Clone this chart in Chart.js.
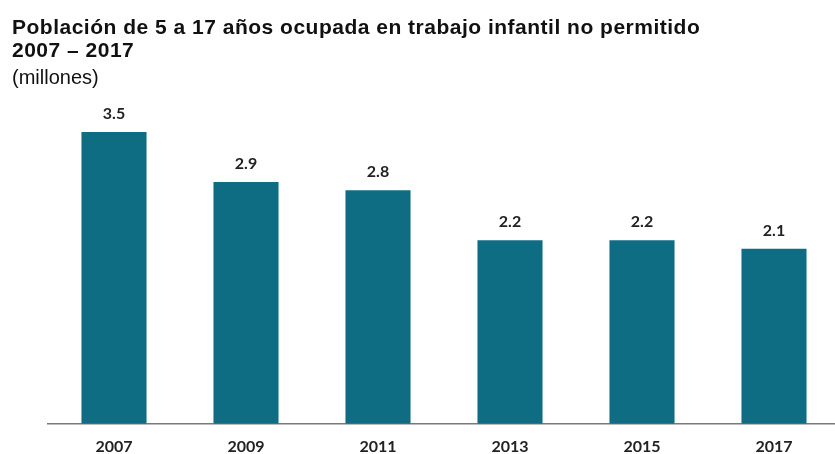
<!DOCTYPE html>
<html>
<head>
<meta charset="utf-8">
<script src="https://cdn.jsdelivr.net/npm/chart.js@4.4.1/dist/chart.umd.min.js"></script>
<style>
  html, body { margin: 0; padding: 0; background: #ffffff; overflow: hidden; }
  #wrap { width: 835px; height: 454px; position: relative; overflow: hidden; }
</style>
</head>
<body>
<div id="wrap"><canvas id="c" width="840" height="454"></canvas></div>
<script>
const categories = ['2007', '2009', '2011', '2013', '2015', '2017'];
const values = [3.5, 2.9, 2.8, 2.2, 2.2, 2.1];
const valueLabels = ['3.5', '2.9', '2.8', '2.2', '2.2', '2.1'];
const titleLines = ['Población de 5 a 17 años ocupada en trabajo infantil no permitido', '2007 – 2017'];
const subtitleText = '(millones)';

const barColor = '#0e6d82';

const valueLabelPlugin = {
  id: 'valueLabels',
  beforeDraw(chart) {
    const tb = chart.titleBlock;
    if (tb && !tb._spaced) {
      const orig = tb.draw.bind(tb);
      tb.draw = function () {
        const ctx = chart.ctx;
        const prev = ctx.letterSpacing;
        ctx.letterSpacing = '0.5px';
        orig();
        ctx.letterSpacing = prev || '0px';
      };
      tb._spaced = true;
    }
  },
  afterDatasetsDraw(chart) {
    const ctx = chart.ctx;
    const meta = chart.getDatasetMeta(0);
    ctx.save();
    ctx.font = 'bold 16px Lato';
    ctx.fillStyle = '#222222';
    ctx.textAlign = 'center';
    ctx.textBaseline = 'alphabetic';
    meta.data.forEach((bar, i) => {
      ctx.fillText(valueLabels[i], bar.x, bar.y - 13);
    });
    ctx.restore();
  }
};

new Chart(document.getElementById('c'), {
  type: 'bar',
  data: {
    labels: categories,
    datasets: [{
      data: values,
      backgroundColor: barColor,
      borderWidth: 0,
      categoryPercentage: 1.0,
      barPercentage: 0.493
    }]
  },
  options: {
    responsive: false,
    animation: false,
    layout: { padding: { left: 12, right: 0, top: 0, bottom: -15 } },
    plugins: {
      legend: { display: false },
      tooltip: { enabled: false },
      title: {
        display: true,
        text: titleLines,
        align: 'start',
        color: '#111111',
        font: { family: 'Liberation Sans', size: 21, weight: 'bold', lineHeight: 1.1 },
        padding: { top: 17, bottom: 4 }
      },
      subtitle: {
        display: true,
        text: subtitleText,
        align: 'start',
        color: '#111111',
        font: { family: 'Liberation Sans', size: 20, weight: 'normal', lineHeight: 1.1 },
        padding: { top: 0, bottom: 1 }
      }
    },
    scales: {
      x: {
        grid: { display: false, drawTicks: false },
        border: { display: true, color: '#7a7a7a', width: 1.5 },
        ticks: {
          color: '#222222',
          font: { family: 'Lato', size: 16, weight: 'bold' },
          padding: 13
        }
      },
      y: {
        min: 0,
        max: 4,
        display: true,
        grid: { display: false },
        border: { display: false },
        ticks: { display: false },
        afterFit(scale) { scale.width = 36; }
      }
    }
  },
  plugins: [valueLabelPlugin]
});
</script>
</body>
</html>
